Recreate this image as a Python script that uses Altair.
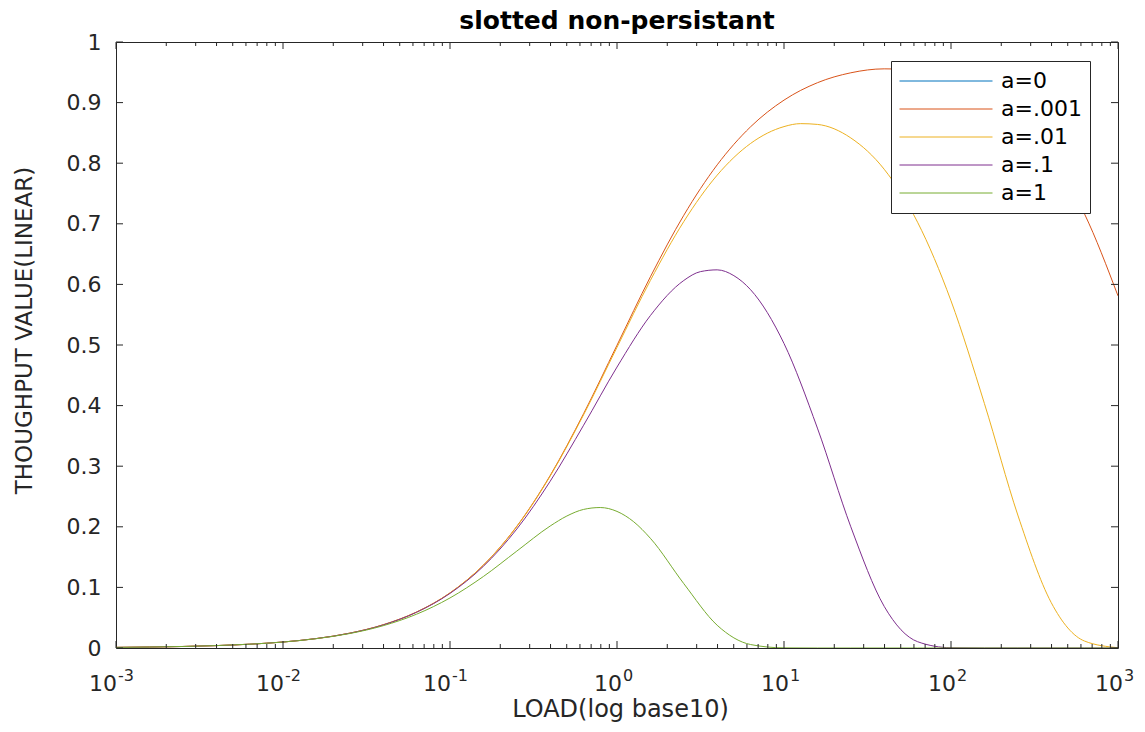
import altair as alt
import pandas as pd

FONT = "DejaVu Sans"
AX = "#262626"

TITLE = "slotted non-persistant"
SERIES = ["a=0", "a=.001", "a=.01", "a=.1", "a=1"]
COLORS = ["#0072BD", "#D95319", "#EDB120", "#7E2F8E", "#77AC30"]

LOAD_BASE = [0.001, 0.001585, 0.002512, 0.003981, 0.00631, 0.01, 0.01585, 0.02512,
             0.03981, 0.0631, 0.1, 0.1585, 0.2512, 0.3981, 0.631, 1, 1.585, 2.512,
             3.981, 6.31, 10, 15.85, 25.12, 39.81, 63.1, 100, 158.5, 251.2, 398.1,
             631, 1000]

# a=0 : nothing drawn in the reference (only legend entry)
LOAD_A0 = []
S_A0 = []

LOAD_A001 = LOAD_BASE
S_A001 = [0.000999, 0.00158, 0.00251, 0.00397, 0.00627, 0.0099, 0.0156, 0.0245,
          0.0383, 0.0594, 0.0909, 0.1368, 0.2008, 0.2847, 0.3867, 0.4996, 0.6125, 0.7141,
          0.7973, 0.8601, 0.9041, 0.9328, 0.9492, 0.9557, 0.9532, 0.9409, 0.9167, 0.8756,
          0.8116, 0.7160, 0.5811]

LOAD_A01 = [0.001, 0.001585, 0.002512, 0.003981, 0.00631, 0.01, 0.01585, 0.02512,
            0.03981, 0.0631, 0.1, 0.1585, 0.2512, 0.3981, 0.631, 1, 1.585, 2.512,
            3.981, 6.31, 10, 12.59, 15.85, 25.12, 39.81, 63.1, 100, 158.5, 251.2, 398.1,
            631, 1000]
S_A01 = [0.000999, 0.00158, 0.0025, 0.00396, 0.00626, 0.0099, 0.0156, 0.0245,
         0.0383, 0.0593, 0.0908, 0.1366, 0.2003, 0.2838, 0.3849, 0.4962, 0.6066, 0.7037,
         0.7803, 0.8326, 0.8604, 0.8653, 0.8640, 0.8417, 0.7900, 0.7025, 0.5729, 0.4035,
         0.2194, 0.0750, 0.0114, 0.00045]

LOAD_A1 = [0.001, 0.001585, 0.002512, 0.003981, 0.00631, 0.01, 0.01585, 0.02512,
           0.03981, 0.0631, 0.1, 0.1585, 0.2512, 0.3981, 0.631, 1, 1.585, 2.512,
           3.162, 3.981, 5.012, 6.31, 10, 15.85, 25.12, 39.81, 63.1, 100, 158.5, 251.2,
           398.1, 631, 1000]
S_A1 = [0.000999, 0.00158, 0.0025, 0.00397, 0.00627, 0.0099, 0.0156, 0.0244,
        0.0381, 0.0590, 0.0901, 0.1348, 0.1963, 0.2752, 0.3676, 0.4636, 0.5486, 0.6065,
        0.6211, 0.6240, 0.6144, 0.5912, 0.5025, 0.3629, 0.2000, 0.0687, 0.0104, 0.0004,
        0, 0, 0, 0, 0]

LOAD_1 = [0.001, 0.001585, 0.002512, 0.003981, 0.00631, 0.01, 0.01585, 0.02512,
          0.03981, 0.0631, 0.1, 0.1585, 0.2512, 0.3981, 0.501, 0.631, 0.794, 1, 1.259,
          1.585, 2.512, 3.981, 6.31, 10, 15.85, 25.12, 39.81, 63.1, 100, 158.5, 251.2,
          398.1, 631, 1000]
S_1 = [0.000998, 0.00158, 0.0025, 0.00396, 0.00627, 0.0098, 0.0154, 0.0239,
       0.0368, 0.0558, 0.0826, 0.1180, 0.1599, 0.2013, 0.2178, 0.2287, 0.2318, 0.2254,
       0.2083, 0.1810, 0.1062, 0.0375, 0.0057, 0.0002, 0, 0, 0, 0, 0, 0, 0, 0, 0, 0]

X_MAJOR = [0.001, 0.01, 0.1, 1, 10, 100, 1000]
X_EXP = ["-3", "-2", "-1", "0", "1", "2", "3"]
X_MINOR = [k * 10.0 ** d for d in range(-3, 3) for k in range(2, 10)]
Y_TICKS = [0, 0.1, 0.2, 0.3, 0.4, 0.5, 0.6, 0.7, 0.8, 0.9, 1.0]

W, H = 1002, 606

rows = []
for name, loads, vals in [("a=0", LOAD_A0, S_A0), ("a=.001", LOAD_A001, S_A001),
                          ("a=.01", LOAD_A01, S_A01), ("a=.1", LOAD_A1, S_A1),
                          ("a=1", LOAD_1, S_1)]:
    for g, s in zip(loads, vals):
        rows.append({"load": g, "S": s, "series": name})
df = pd.DataFrame(rows)

xscale = alt.Scale(type="log", domain=[0.001, 1000])
yscale = alt.Scale(domain=[0, 1])

XT = "LOAD(log base10)"
YT = "THOUGHPUT VALUE(LINEAR)"

lines = alt.Chart(df).mark_line(strokeWidth=1, interpolate="monotone", clip=True).encode(
    x=alt.X("load:Q", scale=xscale, title=XT,
            axis=alt.Axis(labels=False, ticks=False, domain=False, grid=False,
                          titleFont=FONT, titleFontSize=24,
                          titleFontWeight="normal", titleColor=AX,
                          titleX=504, titleY=68, titleBaseline="alphabetic",
                          titleAlign="center")),
    y=alt.Y("S:Q", scale=yscale, title=YT,
            axis=alt.Axis(values=Y_TICKS, format="~g", ticks=False, domain=False,
                          grid=False, labelFont=FONT, labelFontSize=22, labelColor=AX,
                          labelPadding=15, titleFont=FONT,
                          titleFontSize=23, titleFontWeight="normal", titleColor=AX,
                          titleAngle=270, titleX=-92, titleY=288,
                          titleBaseline="middle", titleAlign="center")),
    color=alt.Color("series:N",
                    scale=alt.Scale(domain=SERIES, range=COLORS),
                    sort=SERIES,
                    legend=alt.Legend(title=None, orient="none", legendX=775, legendY=19,
                                      symbolType="stroke", symbolSize=8649,
                                      symbolStrokeWidth=1, clipHeight=24, rowPadding=4,
                                      labelFont=FONT, labelFontSize=22, labelColor="#000",
                                      labelOffset=8, padding=8, fillColor="white",
                                      strokeColor=AX, direction="vertical")),
)

xmaj = pd.DataFrame({"load": X_MAJOR})
xmin = pd.DataFrame({"load": X_MINOR})
ytk = pd.DataFrame({"S": Y_TICKS})

def xrule(data, y1, y2):
    return alt.Chart(data).mark_rule(color=AX, strokeWidth=1).encode(
        x=alt.X("load:Q", title=XT), y=alt.value(y1), y2=alt.value(y2))

def yrule(x1, x2):
    return alt.Chart(ytk).mark_rule(color=AX, strokeWidth=1).encode(
        y=alt.Y("S:Q", title=YT), x=alt.value(x1), x2=alt.value(x2))

ticks = [
    xrule(xmaj, H, H - 7), xrule(xmaj, 0, 7),
    xrule(xmin, H, H - 4), xrule(xmin, 0, 4),
    yrule(0, 7), yrule(W, W - 7),
]

xl = pd.DataFrame({"load": X_MAJOR, "base": ["10"] * len(X_MAJOR), "exp": X_EXP,
                   "neg": [e.startswith("-") for e in X_EXP]})

def xlabels(neg, dx):
    base = alt.Chart(xl).transform_filter(
        "datum.neg" if neg else "!datum.neg")
    t10 = base.mark_text(align="right", baseline="alphabetic", font=FONT, fontSize=22,
                         color=AX, dx=dx).encode(
        x=alt.X("load:Q", title=XT), y=alt.value(H + 43), text="base:N")
    tex = base.mark_text(align="left", baseline="alphabetic", font=FONT, fontSize=16,
                         color=AX, dx=dx + 1).encode(
        x=alt.X("load:Q", title=XT), y=alt.value(H + 33), text="exp:N")
    return [t10, tex]

labels = xlabels(True, 1) + xlabels(False, 5)

title = alt.Chart(pd.DataFrame({"t": [TITLE]})).mark_text(
    font=FONT, fontSize=25, fontWeight="bold", color="#000", align="center",
    baseline="alphabetic").encode(x=alt.value(W / 2), y=alt.value(-13), text="t:N")

chart = alt.layer(lines, *ticks, *labels, title).properties(
    width=W, height=H,
    autosize=alt.AutoSizeParams(type="none"),
    padding={"left": 108, "top": 34, "right": 19, "bottom": 76},
    background="white",
).configure_view(stroke=AX, strokeWidth=1)

chart.save("out.html", embed_options={"renderer": "svg", "actions": False})
